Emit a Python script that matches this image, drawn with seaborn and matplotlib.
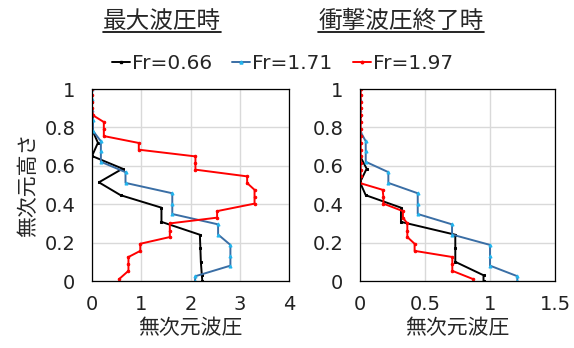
import pandas as pd
import seaborn as sns
import matplotlib.pyplot as plt
from matplotlib.lines import Line2D
from matplotlib.ticker import FuncFormatter

# heights (nondimensional) of the gauges for each run
black_h = [0.0, 0.03, 0.1, 0.172, 0.241, 0.308, 0.382, 0.447, 0.514, 0.585, 0.651, 0.72, 0.79, 0.86, 0.93, 1.0]
blue_h = [0.0, 0.025, 0.08, 0.132, 0.188, 0.242, 0.295, 0.349, 0.402, 0.457, 0.511, 0.567, 0.621, 0.678, 0.728,
          0.782, 0.837, 0.892, 0.947, 1.0]
red_h = [0.01, 0.053, 0.087, 0.125, 0.157, 0.194, 0.229, 0.263, 0.3, 0.33, 0.364, 0.403, 0.438, 0.475, 0.51,
         0.545, 0.58, 0.615, 0.649, 0.684, 0.719, 0.755, 0.793, 0.828, 0.863, 0.9, 0.932, 0.967, 1.0]

# pressure at max wave pressure
black_max = [2.24, 2.23, 2.21, 2.2, 2.19, 1.41, 1.41, 0.58, 0.14, 0.62, 0.0, 0.12, 0.0, 0.0, 0.0, 0.0]
blue_max = [2.09, 2.1, 2.81, 2.81, 2.81, 2.56, 2.56, 1.63, 1.63, 1.63, 0.68, 0.68, 0.18, 0.18, 0.18,
            0.02, 0.02, 0.0, 0.0, 0.0]
red_max = [0.55, 0.74, 0.74, 0.74, 0.98, 0.98, 1.58, 1.58, 1.58, 2.54, 2.54, 3.3, 3.3, 3.3, 3.15,
           3.15, 2.1, 2.1, 2.1, 0.95, 0.95, 0.24, 0.24, 0.24, 0.02, 0.0, 0.0, 0.0, 0.0]

# pressure at end of impact pressure
black_end = [0.95, 0.95, 0.733, 0.733, 0.733, 0.315, 0.315, 0.044, 0.0, 0.051, 0.0, 0.0, 0.0, 0.0, 0.0, 0.0]
blue_end = [1.21, 1.21, 1.0, 1.0, 1.0, 0.708, 0.708, 0.444, 0.444, 0.444, 0.218, 0.218, 0.044, 0.044, 0.044,
            0.0, 0.0, 0.0, 0.0, 0.0]
red_end = [0.87, 0.71, 0.71, 0.71, 0.42, 0.42, 0.364, 0.364, 0.364, 0.33, 0.33, 0.18, 0.18, 0.174, 0.0,
           0.005, 0.005, 0.005, 0.005, 0.005, 0.005, 0.005, 0.005, 0.005, 0.005, 0.005, 0.005, 0.005, 0.005]

labels = ['Fr=0.66', 'Fr=1.71', 'Fr=1.97']
titles = ['最大波圧時', '衝撃波圧終了時']

sns.set_style('whitegrid')
plt.rcParams['font.family'] = ['DejaVu Sans', 'Noto Sans CJK JP']
jp = 'Noto Sans CJK JP'

# line colour, marker colour, marker, marker size
styles = [('black', 'black', 's', 1.8), ('#3a6ea5', '#22b5ee', '^', 2.2), ('red', 'red', 'o', 1.8)]

fig = plt.figure(figsize=(5.74, 3.48), dpi=100)
ax1 = fig.add_axes([0.1603, 0.1925, 0.3432, 0.5517])
ax2 = fig.add_axes([0.6272, 0.1925, 0.3397, 0.5517])

panels = [
    (ax1, [black_max, blue_max, red_max], [0, 1, 2, 3, 4]),
    (ax2, [black_end, blue_end, red_end], [0, 0.5, 1, 1.5]),
]
heights = [black_h, blue_h, red_h]

for ax, series, xt in panels:
    for p, h, lab, (lc, mc, mk, ms) in zip(series, heights, labels, styles):
        df = pd.DataFrame({'p': p, 'h': h})
        sns.lineplot(data=df, x='p', y='h', sort=False, estimator=None, ax=ax, color=lc,
                     linewidth=1.4, marker=mk, markersize=ms, markerfacecolor=mc,
                     markeredgecolor=mc, label=lab, legend=False)
    ax.set_xlim(xt[0], xt[-1])
    ax.set_ylim(0, 1)
    ax.set_xticks(xt)
    ax.set_yticks([0, 0.2, 0.4, 0.6, 0.8, 1.0])
    fmt = FuncFormatter(lambda v, pos: f'{v:g}')
    ax.xaxis.set_major_formatter(fmt)
    ax.yaxis.set_major_formatter(fmt)
    ax.tick_params(axis='both', length=0, labelsize=14, colors='#222222')
    ax.tick_params(axis='x', pad=10)
    ax.tick_params(axis='y', pad=12)
    ax.grid(True, color='#d9d9d9', linewidth=1)
    for s in ax.spines.values():
        s.set_visible(True)
        s.set_color('black')
        s.set_linewidth(0.9)
    ax.set_xlabel('無次元波圧', family=jp, fontsize=15, labelpad=2)
    ax.set_ylabel('')

ax1.set_ylabel('無次元高さ', family=jp, fontsize=15, labelpad=4)

handles = [Line2D([0], [0], color=lc, linewidth=1.4, marker=mk, markersize=ms,
                  markerfacecolor=mc, markeredgecolor=mc) for lc, mc, mk, ms in styles]
fig.legend(handles, labels, loc='center', bbox_to_anchor=(0.492, 0.818), ncol=3, frameon=False,
           fontsize=14.5, handlelength=0.9, handletextpad=0.1, columnspacing=1.0)

t1 = fig.text(0.2822, 0.937, titles[0], family=jp, fontsize=17, ha='center', va='center')
t2 = fig.text(0.6986, 0.937, titles[1], family=jp, fontsize=17, ha='center', va='center')

# underline the titles
fig.canvas.draw()
r = fig.canvas.get_renderer()
for t in (t1, t2):
    bb = t.get_window_extent(r).transformed(fig.transFigure.inverted())
    fig.add_artist(Line2D([bb.x0, bb.x1], [bb.y0 + 0.005, bb.y0 + 0.005], color='black',
                          linewidth=1.2, transform=fig.transFigure))

fig.savefig('out.png', dpi=100)
